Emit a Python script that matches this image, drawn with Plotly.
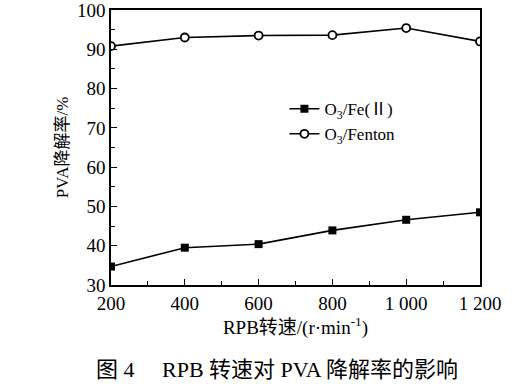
import plotly.graph_objects as go

speed = [200, 400, 600, 800, 1000, 1200]
fe2 = [34.7, 39.5, 40.4, 43.9, 46.6, 48.5]
fenton = [90.8, 93.0, 93.5, 93.6, 95.4, 92.0]
xticks = [200, 400, 600, 800, 1000, 1200]
xticklabels = ["200", "400", "600", "800", "1 000", "1 200"]
yticks = [30, 40, 50, 60, 70, 80, 90, 100]

FONT = "Liberation Serif, Times New Roman, Noto Sans CJK SC, serif"

fig = go.Figure()
fig.add_trace(go.Scatter(
    x=speed, y=fe2, mode="lines+markers", name="O<sub>3</sub>/Fe(Ⅱ)",
    line=dict(color="black", width=1.6),
    marker=dict(symbol="square", size=8, color="black"),
))
fig.add_trace(go.Scatter(
    x=speed, y=fenton, mode="lines+markers", name="O<sub>3</sub>/Fenton",
    line=dict(color="black", width=1.6),
    marker=dict(symbol="circle", size=8, color="white", line=dict(color="black", width=1.8)),
))

axis_common = dict(
    showline=True, linecolor="black", linewidth=1.5, mirror=True,
    ticks="inside", ticklen=6, tickwidth=1.2, tickcolor="black",
    showgrid=False, zeroline=False, automargin=False, ticklabeloverflow="allow",
    tickfont=dict(family=FONT, size=19, color="black"),
)

fig.update_xaxes(
    range=[200, 1200], tickvals=xticks, ticktext=xticklabels,
    minor=dict(ticks="inside", ticklen=4, dtick=100, tick0=200, tickcolor="black"),
    title=dict(text="RPB转速/(r·min<sup>-1</sup>)", font=dict(family=FONT, size=19, color="black"), standoff=0),
    **axis_common,
)
fig.update_yaxes(
    range=[30, 100], tickvals=yticks,
    minor=dict(ticks="inside", ticklen=4, dtick=5, tick0=30, tickcolor="black"),
    title=dict(text="PVA降解率/%", font=dict(family=FONT, size=17, color="black"), standoff=4),
    **axis_common,
)

fig.update_layout(
    width=525, height=384,
    margin=dict(l=111, r=45, t=10, b=99),
    paper_bgcolor="white", plot_bgcolor="white",
    showlegend=True,
    legend=dict(x=0.47, y=0.705, xanchor="left", yanchor="top",
                bgcolor="rgba(0,0,0,0)", font=dict(family=FONT, size=17, color="black"),
                tracegroupgap=0, itemwidth=30),
    annotations=[dict(
        text="图 4　 RPB 转速对 PVA 降解率的影响", xref="paper", yref="paper",
        x=0.45, y=-0.255, xanchor="center", yanchor="top", showarrow=False,
        font=dict(family=FONT, size=22, color="black"),
    )],
)

fig.write_html("out.html", config={"displayModeBar": False},
               post_script="document.body.style.margin='0';document.body.style.padding='0';")
